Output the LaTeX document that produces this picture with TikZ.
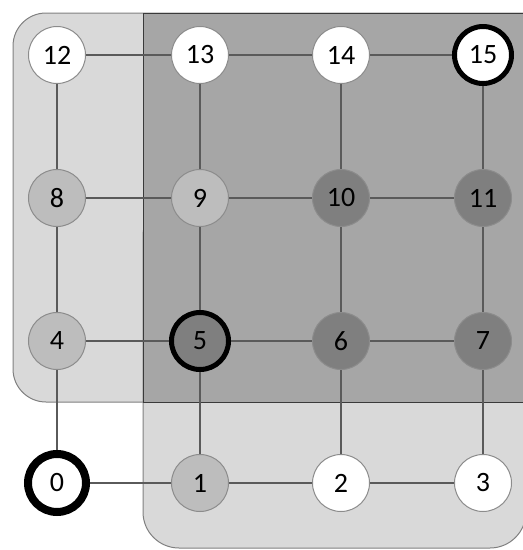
\documentclass[tikz,border=0pt]{standalone}
\usepackage{fontspec}
\setmainfont{Carlito}
\begin{document}
\begin{tikzpicture}[x=1pt,y=-1pt,
  nd/.style={circle,draw=nodeedge,line width=1pt,minimum size=57pt,inner sep=0pt,font=\fontsize{28}{30}\selectfont},
  wn/.style={nd,fill=white},
  ln/.style={nd,fill=lightnode},
  dn/.style={nd,fill=darknode},
  hl/.style={draw=black,line width=5pt},
  edge/.style={draw=edgecol,line width=1.3pt},
  region/.style={draw=regionedge,line width=1pt}
]
\definecolor{lightbg}{HTML}{D9D9D9}
\definecolor{darkbg}{HTML}{A6A6A6}
\definecolor{lightnode}{HTML}{BDBDBD}
\definecolor{darknode}{HTML}{7F7F7F}
\definecolor{nodeedge}{HTML}{8C8C8C}
\definecolor{edgecol}{HTML}{5A5A5A}
\definecolor{regionedge}{HTML}{3A3A3A}
\useasboundingbox (0,0) rectangle (523,550);
\clip (0,0) rectangle (523,550);
% regions
\path[region,fill=lightbg,draw=gray] [rounded corners=33pt] (13,13) rectangle (560,402);
\path[region,fill=lightbg,draw=gray] [rounded corners=36pt] (143,200) rectangle (526,548);
\path[region,fill=darkbg] (143,13) rectangle (560,402);
% nodes
\node[wn] (n12) at (57,55) {12};
\node[wn] (n13) at (200,55) {13};
\node[wn] (n14) at (341,55) {14};
\node[wn,hl] (n15) at (483,55) {15};
\node[ln] (n8) at (57,198) {8};
\node[ln] (n9) at (200,198) {9};
\node[dn] (n10) at (341,198) {10};
\node[dn] (n11) at (483,198) {11};
\node[ln] (n4) at (57,341) {4};
\node[dn,hl] (n5) at (200,341) {5};
\node[dn] (n6) at (341,341) {6};
\node[dn] (n7) at (483,341) {7};
\node[wn,draw=black,line width=8pt,minimum size=58pt] (n0) at (57,483) {0};
\node[ln] (n1) at (200,483) {1};
\node[wn] (n2) at (341,483) {2};
\node[wn] (n3) at (483,483) {3};
% edges
\foreach \a/\b in {12/13,13/14,14/15,8/9,9/10,10/11,4/5,5/6,6/7,0/1,1/2,2/3,
                   12/8,8/4,4/0,13/9,9/5,5/1,14/10,10/6,6/2,15/11,11/7,7/3}
  \draw[edge] (n\a) -- (n\b);
\end{tikzpicture}
\end{document}
